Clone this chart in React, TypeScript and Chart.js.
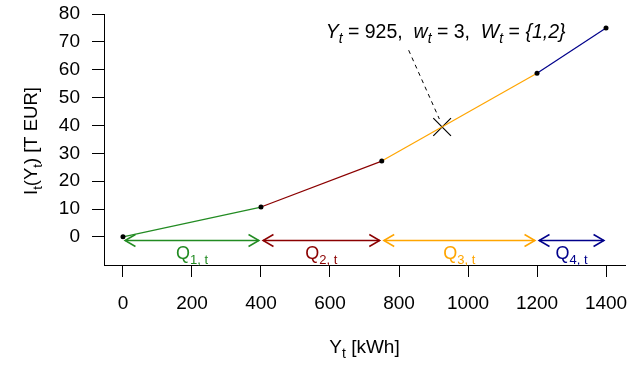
import React, { useEffect, useRef } from "react";
import { Chart, registerables } from "chart.js";

Chart.register(...registerables);

// ---- data ----
const xValues = [0, 400, 750, 1200, 1400];
const yValues = [0, 10.7, 27.2, 58.7, 75];
const segmentColors = ["#228B22", "#8B0000", "#FFA500", "#00008B"];
const qSubs = ["1, t", "2, t", "3, t", "4, t"];
const qStarts = [6, 406, 756, 1206];
const qEnds = [394, 744, 1194, 1394];
const qCenters = [200, 575, 975, 1300];
const arrowY = -1.3;
const qLabelY = -7.9;
const markerX = [925];
const markerY = [39.45];
const leaderX = [828, 917];
const leaderY = [67.0, 42.3];
const noteX = 935;
const noteY = 71.5;
const xTicks = [0, 200, 400, 600, 800, 1000, 1200, 1400];
const yTicks = [0, 10, 20, 30, 40, 50, 60, 70, 80];

const FONT = "'Liberation Sans', Arial, Helvetica, sans-serif";
const FS = 19;

type Part = { t: string; it?: boolean; sub?: boolean };

function partFont(p: Part, size: number) {
  const s = p.sub ? Math.round(size * 0.72) : size;
  return `${p.it ? "italic " : ""}${s}px ${FONT}`;
}

function richWidth(ctx: CanvasRenderingContext2D, parts: Part[], size: number) {
  let w = 0;
  for (const p of parts) {
    ctx.font = partFont(p, size);
    w += ctx.measureText(p.t).width;
  }
  return w;
}

function drawRich(
  ctx: CanvasRenderingContext2D,
  parts: Part[],
  cx: number,
  baseline: number,
  size: number,
  color: string
) {
  const total = richWidth(ctx, parts, size);
  let x = cx - total / 2;
  ctx.fillStyle = color;
  ctx.textBaseline = "alphabetic";
  ctx.textAlign = "left";
  for (const p of parts) {
    ctx.font = partFont(p, size);
    const y = p.sub ? baseline + size * 0.28 : baseline;
    ctx.fillText(p.t, x, y);
    x += ctx.measureText(p.t).width;
  }
}

const overlayPlugin = {
  id: "overlay",
  afterDatasetsDraw(chart: any) {
    const ctx: CanvasRenderingContext2D = chart.ctx;
    const xs = chart.scales.x;
    const ys = chart.scales.y;
    const ca = chart.chartArea;
    ctx.save();
    // arrow heads
    const headLen = 12;
    const ang = (30 * Math.PI) / 180;
    for (let i = 0; i < qStarts.length; i++) {
      const y = ys.getPixelForValue(arrowY);
      const x0 = xs.getPixelForValue(qStarts[i]);
      const x1 = xs.getPixelForValue(qEnds[i]);
      ctx.strokeStyle = segmentColors[i];
      ctx.lineWidth = 1.5;
      ctx.beginPath();
      ctx.moveTo(x0 + headLen * Math.cos(ang), y - headLen * Math.sin(ang));
      ctx.lineTo(x0, y);
      ctx.lineTo(x0 + headLen * Math.cos(ang), y + headLen * Math.sin(ang));
      ctx.moveTo(x1 - headLen * Math.cos(ang), y - headLen * Math.sin(ang));
      ctx.lineTo(x1, y);
      ctx.lineTo(x1 - headLen * Math.cos(ang), y + headLen * Math.sin(ang));
      ctx.stroke();
      drawRich(
        ctx,
        [{ t: "Q" }, { t: qSubs[i], sub: true }],
        xs.getPixelForValue(qCenters[i]),
        ys.getPixelForValue(qLabelY),
        18,
        segmentColors[i]
      );
    }
    // annotation
    drawRich(
      ctx,
      [
        { t: "Y", it: true },
        { t: "t", it: true, sub: true },
        { t: " = 925,  " },
        { t: "w", it: true },
        { t: "t", it: true, sub: true },
        { t: " = 3,  " },
        { t: "W", it: true },
        { t: "t", it: true, sub: true },
        { t: " = " },
        { t: "{1,2}", it: true },
      ],
      xs.getPixelForValue(noteX),
      ys.getPixelForValue(noteY),
      19.5,
      "#000"
    );
    // x title
    drawRich(
      ctx,
      [{ t: "Y" }, { t: "t", sub: true }, { t: " [kWh]" }],
      (ca.left + ca.right) / 2,
      353,
      19,
      "#000"
    );
    // y title
    ctx.save();
    ctx.translate(37, 141);
    ctx.rotate(-Math.PI / 2);
    drawRich(
      ctx,
      [{ t: "I" }, { t: "t", sub: true }, { t: "(Y" }, { t: "t", sub: true }, { t: ") [T EUR]" }],
      0,
      0,
      18.5,
      "#000"
    );
    ctx.restore();
    ctx.restore();
  },
};

function zeroPad(s: any) {
  s.paddingLeft = 0;
  s.paddingRight = 0;
  s.paddingTop = 0;
  s.paddingBottom = 0;
}

export default function App() {
  const ref = useRef<HTMLCanvasElement | null>(null);
  useEffect(() => {
    if (!ref.current) return;
    const mainData = xValues.map((x, i) => ({ x, y: yValues[i] }));
    const arrowSets = qStarts.map((s, i) => ({
      type: "line" as const,
      data: [
        { x: s, y: arrowY },
        { x: qEnds[i], y: arrowY },
      ],
      borderColor: segmentColors[i],
      borderWidth: 1.5,
      pointRadius: 0,
      showLine: true,
    }));
    const chart = new Chart(ref.current, {
      type: "scatter",
      data: {
        datasets: [
          {
            type: "line",
            data: mainData,
            borderColor: segmentColors[0],
            borderWidth: 1.2,
            showLine: true,
            segment: {
              borderColor: (c: any) => segmentColors[c.p0DataIndex] || "#000",
            },
            pointRadius: 2.5,
            pointBackgroundColor: "#000",
            pointBorderColor: "#000",
            pointBorderWidth: 0,
          } as any,
          ...arrowSets,
          {
            type: "line",
            data: leaderX.map((x, i) => ({ x, y: leaderY[i] })),
            borderColor: "#000",
            borderWidth: 1,
            borderDash: [4, 4],
            pointRadius: 0,
            showLine: true,
          },
          {
            type: "scatter",
            data: markerX.map((x, i) => ({ x, y: markerY[i] })),
            pointStyle: "crossRot",
            pointRadius: 12.5,
            borderColor: "#000",
            borderWidth: 1.2,
            showLine: false,
          } as any,
        ],
      },
      options: {
        animation: false,
        responsive: false,
        layout: { autoPadding: false, padding: { top: 14, right: 5, left: 0, bottom: 0 } },
        plugins: {
          legend: { display: false },
          tooltip: { enabled: false },
        },
        scales: {
          x: {
            type: "linear",
            min: -55,
            max: 1455,
            afterBuildTicks: (s: any) => {
              s.ticks = xTicks.map((v) => ({ value: v }));
            },
            afterFit: (s: any) => {
              s.height = 100;
              zeroPad(s);
            },
            grid: {
              drawOnChartArea: false,
              drawTicks: true,
              tickLength: 12,
              color: "#000",
              lineWidth: 1,
            },
            border: { display: true, color: "#000", width: 1 },
            ticks: {
              color: "#000",
              font: { size: FS, family: FONT },
              padding: 15,
              maxRotation: 0,
              autoSkip: false,
              callback: (v: any) => String(v),
            },
          },
          y: {
            type: "linear",
            min: -10.1,
            max: 80,
            afterBuildTicks: (s: any) => {
              s.ticks = yTicks.map((v) => ({ value: v }));
            },
            afterFit: (s: any) => {
              s.width = 104;
              zeroPad(s);
            },
            grid: {
              drawOnChartArea: false,
              drawTicks: true,
              tickLength: 12,
              color: "#000",
              lineWidth: 1,
            },
            border: { display: true, color: "#000", width: 1 },
            ticks: {
              color: "#000",
              font: { size: FS, family: FONT },
              padding: 12,
              autoSkip: false,
              callback: (v: any) => String(v),
            },
          },
        },
      } as any,
      plugins: [overlayPlugin],
    });
    return () => chart.destroy();
  }, []);
  return (
    <div style={{ position: "absolute", left: 0, top: 0, width: 630, height: 365, background: "#fff" }}>
      <canvas ref={ref} width={630} height={365} style={{ width: 630, height: 365 }} />
    </div>
  );
}
